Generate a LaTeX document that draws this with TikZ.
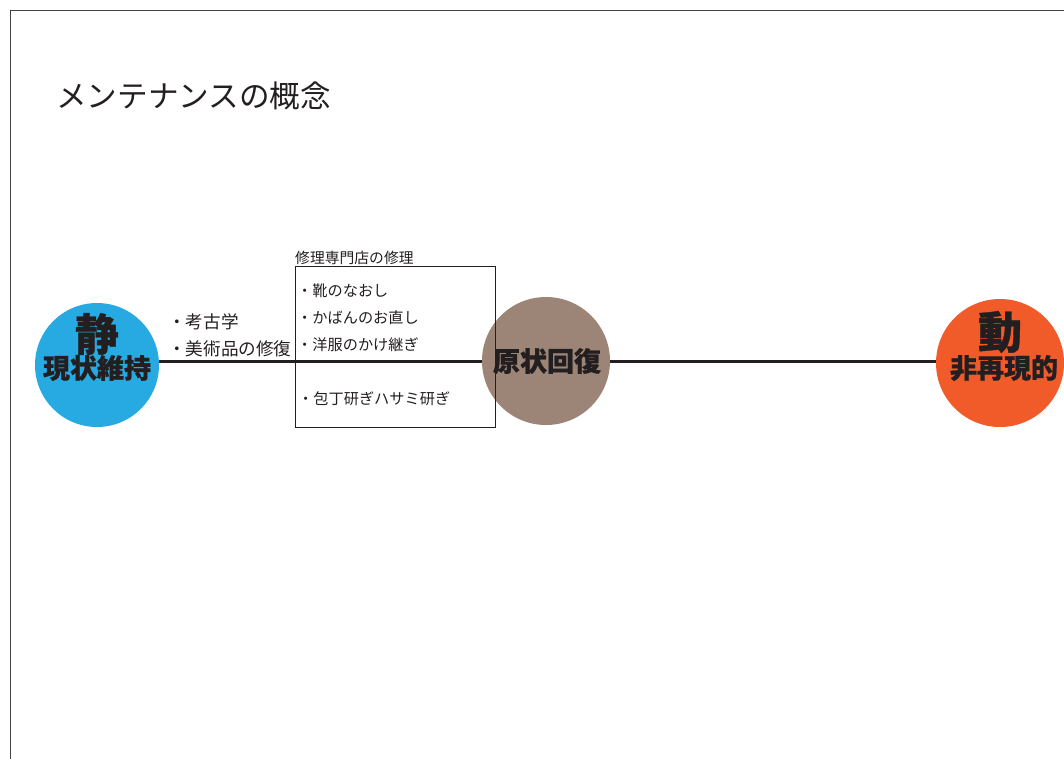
\documentclass[tikz,border=0pt]{standalone}
\usepackage{fontspec}
\newfontfamily\jp[BoldFeatures={FakeBold=0.8}]{Noto Sans CJK JP}
\definecolor{ink}{HTML}{231F20}
\definecolor{cblue}{HTML}{27AAE1}
\definecolor{cbrown}{HTML}{9C8576}
\definecolor{corange}{HTML}{F15A29}
\begin{document}
\begin{tikzpicture}[x=1pt,y=-1pt,
  every node/.style={font=\jp, text=ink, inner sep=0pt},
  disc/.style={circle, minimum size=#1, draw=none},
  big/.style={font=\jp\bfseries\fontsize{44}{44}\selectfont},
  mid/.style={font=\jp\bfseries\fontsize{27}{27}\selectfont},
  item/.style={font=\jp\fontsize{15.2}{15.2}\selectfont, anchor=west},
  item2/.style={font=\jp\fontsize{17.6}{17.6}\selectfont, anchor=west},
  conn/.style={draw=ink, line width=3pt}]
\useasboundingbox (0,0) rectangle (1064,758);
\draw[draw=ink!85, line width=1pt] (10,10) rectangle (1080,780);
\node[anchor=west, font=\jp\fontsize{30.6}{30.6}\selectfont] (title) at (56,96) {メンテナンスの概念};
% circles
\node[disc=124pt, fill=cblue] (blue) at (97,365) {};
\node[disc=128pt, fill=cbrown] (brown) at (546,361) {};
\node[disc=128pt, fill=corange] (orange) at (1000,363) {};
\draw[conn] (blue.east |- brown.center) -- (brown.west);
\draw[conn] (brown.east) -- (orange.west |- brown.center);
% labels in circles
\node[big] (sei) at (97,334) {静};
\node[mid] (genjo) at (97,368) {現状維持};
\node[mid] (kaifuku) at (547,361) {原状回復};
\node[big] (dou) at (1000,332) {動};
\node[mid] (hisai) at (1004,368) {非再現的};
% shop box
\node[draw=ink, line width=0.8pt, minimum width=200pt, minimum height=161pt, anchor=north west] (shop) at (295,266) {};
\node[anchor=south west, font=\jp\fontsize{14.8}{14.8}\selectfont] (shoplabel) at ([yshift=1pt]shop.north west) {修理専門店の修理};
\node[item] (i1) at (297,291) {・靴のなおし};
\node[item] (i2) at (297,318) {・かばんのお直し};
\node[item] (i3) at (297,345) {・洋服のかけ継ぎ};
\node[item] (i4) at (298,399) {・包丁研ぎハサミ研ぎ};
\node[item2] (k1) at (168,322) {・考古学};
\node[item2] (k2) at (168,349) {・美術品の修復};
\end{tikzpicture}
\end{document}
